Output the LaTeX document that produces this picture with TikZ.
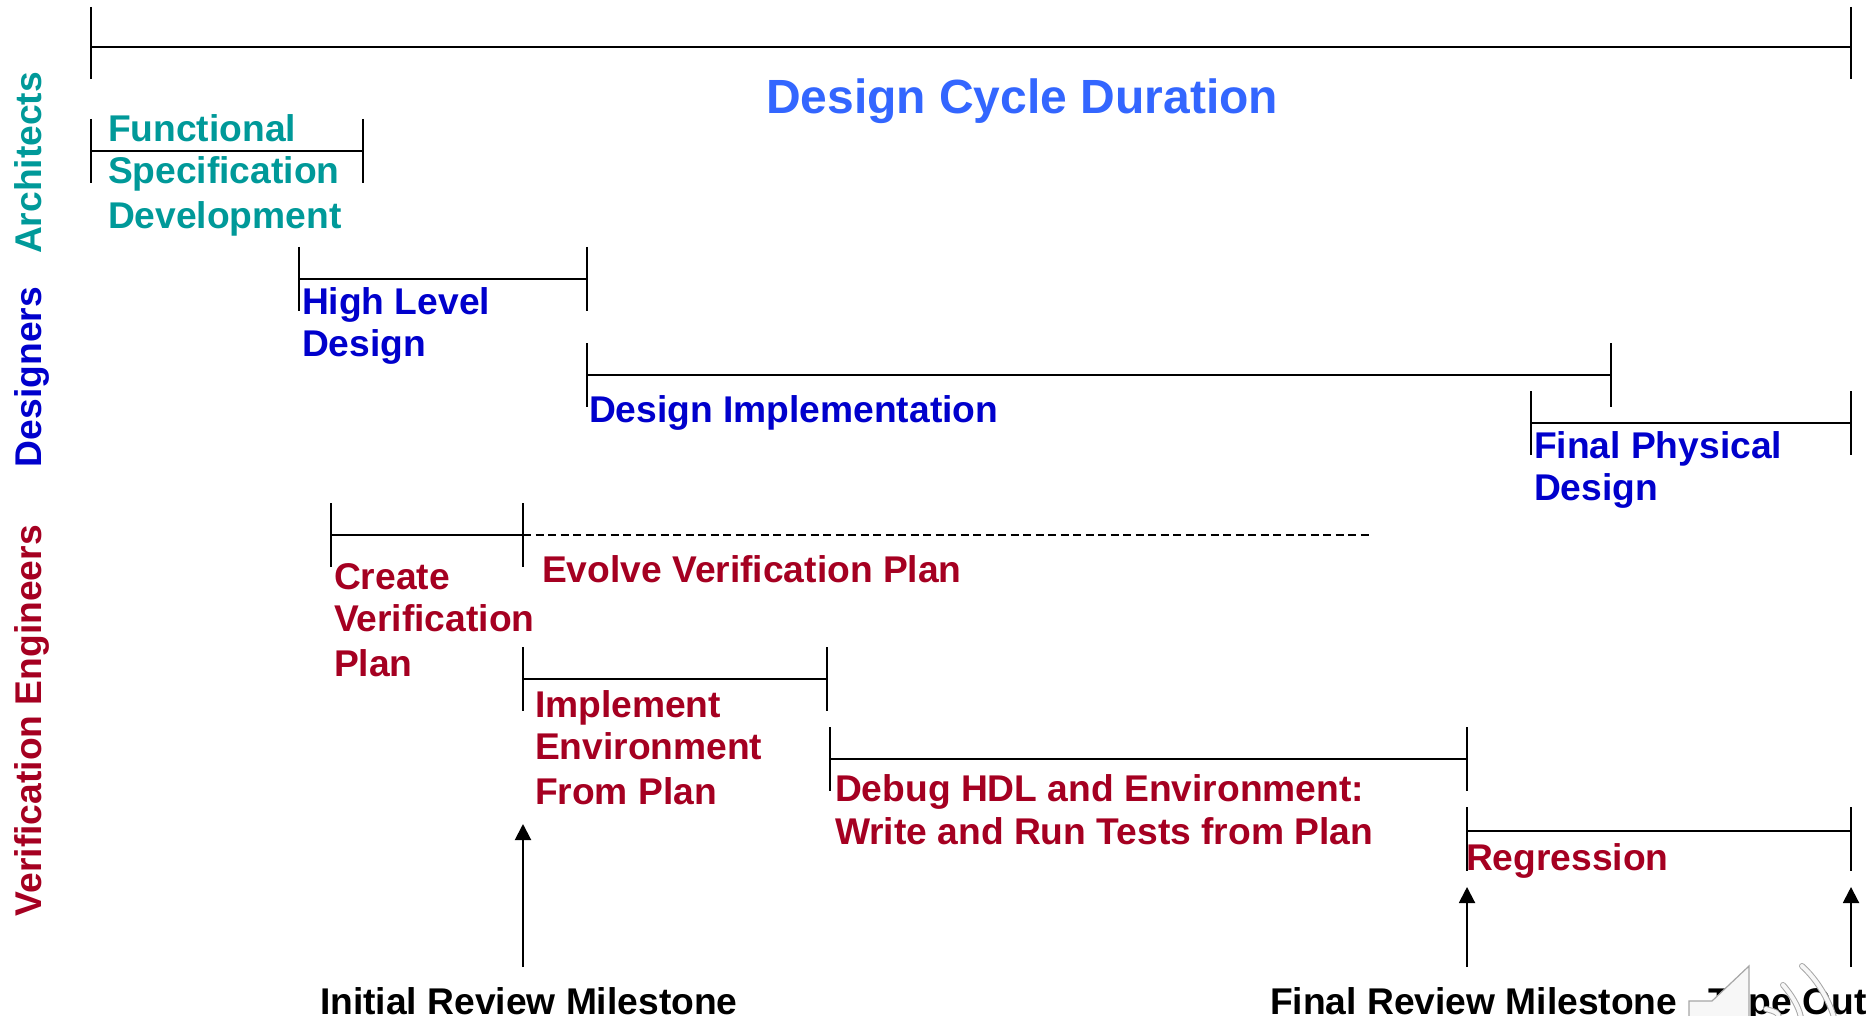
\documentclass[tikz,border=0pt]{standalone}
\usepackage{fontspec}
\setmainfont{Liberation Sans}
\usetikzlibrary{arrows.meta}
\definecolor{teal1}{HTML}{009999}
\definecolor{blue1}{HTML}{0000CC}
\definecolor{red1}{HTML}{A50021}
\definecolor{title1}{HTML}{3366FF}
\tikzset{
  x=1pt,y=-1pt,
  lab/.style={inner sep=0pt,outer sep=0pt,anchor=base west,align=left,font=\fontsize{37.2}{42}\selectfont\bfseries},
  teallab/.style={lab,text=teal1},
  bluelab/.style={lab,text=blue1},
  redlab/.style={lab,text=red1},
  blacklab/.style={lab,text=black},
  sidelab/.style={lab,rotate=90},
  bar/.style={draw=black,line width=2pt},
  arr/.style={draw=black,line width=2pt,-{Triangle[length=16pt,width=16pt]}},
  speaker/.style={draw=gray!70,fill=white!97!black,line width=1.2pt},
}
\newcommand{\spanbar}[6]{% name, x1, x2, y, up, down
  \coordinate (#1l) at (#2,#4);
  \coordinate (#1r) at (#3,#4);
  \draw[bar] (#1l) -- (#1r);
  \draw[bar] (#2,#4-#5) -- (#2,#4+#6);
  \draw[bar] (#3,#4-#5) -- (#3,#4+#6);
}
\begin{document}
\begin{tikzpicture}
\useasboundingbox (0,0) rectangle (1870,1016);
\spanbar{cycle}{91}{1851}{47}{40}{32}
\spanbar{func}{91}{363}{151}{32}{32}
\spanbar{hld}{299}{587}{279}{32}{32}
\spanbar{impl}{587}{1611}{375}{32}{32}
\spanbar{phys}{1531}{1851}{423}{32}{32}
\spanbar{plan}{331}{523}{535}{32}{32}
\coordinate (evolveA) at (523,535);
\coordinate (evolveB) at (1372,535);
\draw[line width=1.8pt,dash pattern=on 8pt off 4.5pt] (evolveA) -- (evolveB);
\spanbar{env}{523}{827}{679}{32}{32}
\spanbar{debug}{830}{1467}{759}{32}{32}
\spanbar{reg}{1467}{1851}{831}{24}{40}
\node[lab,text=title1,font=\fontsize{48}{50}\selectfont\bfseries] (title) at (766,114) {Design Cycle Duration};
\node[sidelab,text=teal1] (arch) at (41,254) {Architects};
\node[sidelab,text=blue1] (des) at (41,467) {Designers};
\node[sidelab,text=red1] (ver) at (41,916) {Verification Engineers};
\node[teallab] (t1) at (108,142) {Functional};
\node[teallab] (t2) at (108,184) {Specification};
\node[teallab] (t3) at (108,229) {Development};
\node[bluelab] (b1) at (302,314) {High Level};
\node[bluelab] (b2) at (302,356) {Design};
\node[bluelab] (b3) at (589,422) {Design Implementation};
\node[bluelab] (b4) at (1534,458) {Final Physical};
\node[bluelab] (b5) at (1534,500) {Design};
\node[redlab] (r1) at (334,589) {Create};
\node[redlab] (r2) at (334,631) {Verification};
\node[redlab] (r3) at (334,676) {Plan};
\node[redlab] (r4) at (542,582) {Evolve Verification Plan};
\node[redlab] (r5) at (535,717) {Implement};
\node[redlab] (r6) at (535,759) {Environment};
\node[redlab] (r7) at (535,804) {From Plan};
\node[redlab] (r8) at (835,801) {Debug HDL and Environment:};
\node[redlab] (r9) at (835,844) {Write and Run Tests from Plan};
\node[redlab] (r10) at (1466,870) {Regression};
\node[blacklab] (m1) at (320,1014) {Initial Review Milestone};
\node[blacklab] (m2) at (1270,1014) {Final Review Milestone};
\node[blacklab] (m3) at (1708,1014) {Tape Out};
\coordinate (a1s) at (523,967); \coordinate (a1e) at (523,824);
\coordinate (a2s) at (1467,967); \coordinate (a2e) at (1467,887);
\coordinate (a3s) at (1851,967); \coordinate (a3e) at (1851,887);
\draw[arr] (a1s) -- (a1e);
\draw[arr] (a2s) -- (a2e);
\draw[arr] (a3s) -- (a3e);
\draw[speaker] (1689,1018) -- (1689,1001) -- (1712,1001) -- (1749,966) -- (1749,1018);
\foreach \a/\b/\c/\d/\e/\f in {1766/1009/1776/1012/1779/1018, 1783/985/1796/1000/1801/1018, 1802/966/1823/985/1834/1018}{
  \draw[gray!70,line width=6pt,line cap=round] (\a,\b) .. controls (\c,\d) and (\e-1,\f-6) .. (\e,\f);
  \draw[white!97!black,line width=4pt,line cap=round] (\a,\b) .. controls (\c,\d) and (\e-1,\f-6) .. (\e,\f);
}
\end{tikzpicture}
\end{document}
